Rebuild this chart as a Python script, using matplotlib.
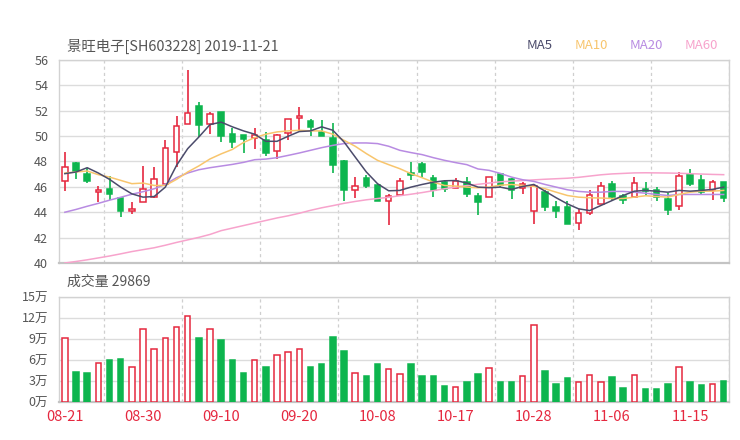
#
# kline chart with ma lines and volume
#

# set the matplotlib backend so figures can be saved in the background
import matplotlib
matplotlib.use("Agg")

import matplotlib.pyplot as plt
import numpy as np

plt.rcParams['font.family'] = ['Noto Sans CJK SC', 'DejaVu Sans']

# chart data
title = "景旺电子[SH603228] 2019-11-21"
dateLabels = ["08-21", "08-30", "09-10", "09-20", "10-08",
              "10-17", "10-28", "11-06", "11-15"]

opens = [46.43, 47.90, 46.98, 45.56, 45.80, 45.16, 44.13, 44.84, 45.24, 46.19,
         48.77, 50.99, 52.34, 50.99, 51.91, 50.20, 50.09, 49.88, 49.72, 48.80,
         50.25, 51.44, 51.20, 50.33, 49.88, 48.00, 45.74, 46.69, 46.11, 44.85,
         45.32, 47.09, 47.83, 46.72, 46.35, 45.93, 46.37, 45.30, 45.19, 47.04,
         46.61, 45.93, 44.13, 45.58, 44.45, 44.45, 43.13, 43.95, 44.66, 46.19,
         45.30, 45.19, 45.85, 45.77, 45.03, 44.53, 46.98, 46.51, 45.72, 46.35]
highs = [48.72, 47.95, 47.50, 46.06, 46.85, 45.16, 44.79, 47.67, 47.59, 49.70,
         51.57, 55.21, 52.70, 51.91, 51.91, 50.60, 50.09, 50.60, 50.30, 50.20,
         51.31, 52.31, 51.36, 51.25, 51.07, 48.14, 46.80, 46.96, 46.20, 45.45,
         46.69, 47.96, 47.96, 46.96, 46.56, 46.72, 46.77, 45.50, 46.80, 47.10,
         46.72, 46.40, 46.11, 45.72, 44.92, 44.92, 44.27, 45.77, 46.35, 46.43,
         45.45, 46.77, 46.35, 45.98, 45.50, 47.17, 47.38, 46.90, 46.51, 46.40]
lows = [45.64, 46.60, 46.30, 44.79, 44.98, 43.66, 43.87, 44.84, 45.14, 46.19,
        47.56, 50.99, 49.93, 50.20, 49.54, 49.09, 48.67, 49.01, 48.40, 48.22,
        49.72, 50.46, 50.04, 50.04, 47.12, 44.90, 45.11, 45.90, 44.87, 43.00,
        45.32, 46.51, 46.77, 45.19, 45.56, 45.93, 45.19, 43.82, 45.19, 45.98,
        45.08, 45.40, 43.08, 44.08, 43.53, 43.08, 42.63, 43.79, 44.66, 44.92,
        44.66, 45.19, 45.32, 44.87, 43.79, 44.19, 46.09, 45.45, 44.98, 44.79]
closes = [47.53, 47.22, 46.50, 45.77, 45.45, 44.13, 44.24, 45.87, 46.61, 49.09,
          50.83, 51.86, 50.91, 51.73, 49.99, 49.57, 49.77, 50.09, 48.67, 50.09,
          51.31, 51.62, 50.68, 50.04, 47.75, 45.74, 46.03, 46.09, 44.87, 45.30,
          46.48, 46.96, 47.14, 45.77, 45.87, 46.45, 45.45, 44.77, 46.80, 46.11,
          45.77, 46.21, 46.03, 44.39, 44.08, 43.08, 43.95, 45.34, 46.09, 45.19,
          44.98, 46.32, 45.64, 45.24, 44.19, 46.82, 46.24, 45.58, 46.37, 45.14]

ma5 = [47.04, 47.17, 47.51, 47.09, 46.59, 45.98, 45.45, 45.19, 45.24, 45.98,
       47.69, 49.01, 49.93, 50.91, 51.10, 50.73, 50.41, 50.15, 49.59, 49.59,
       49.99, 50.36, 50.41, 50.73, 50.46, 49.54, 48.35, 47.17, 46.25, 45.69,
       45.72, 45.98, 46.19, 46.37, 46.48, 46.50, 46.30, 45.98, 45.93, 45.98,
       45.80, 46.03, 46.19, 45.66, 45.14, 44.66, 44.27, 44.13, 44.53, 44.92,
       45.32, 45.66, 45.72, 45.66, 45.58, 45.72, 45.66, 45.72, 45.80, 45.98]
ma10 = [47.09, 47.17, 47.25, 46.96, 46.77, 46.51, 46.25, 46.30, 46.11, 46.11,
        46.59, 47.17, 47.65, 48.20, 48.60, 48.95, 49.50, 49.88, 50.15, 50.33,
        50.41, 50.46, 50.41, 50.41, 50.15, 49.67, 49.20, 48.62, 48.09, 47.75,
        47.43, 47.04, 46.72, 46.37, 46.11, 46.06, 45.98, 45.93, 45.98, 46.13,
        46.19, 46.11, 46.03, 45.85, 45.58, 45.32, 45.19, 45.14, 45.12, 45.08,
        45.08, 45.19, 45.30, 45.24, 45.19, 45.40, 45.58, 45.66, 45.66, 45.72]
ma20 = [44.00, 44.22, 44.47, 44.70, 44.95, 45.18, 45.42, 45.62, 45.85, 46.20,
        46.72, 47.09, 47.35, 47.51, 47.64, 47.77, 47.93, 48.14, 48.19, 48.30,
        48.48, 48.67, 48.88, 49.09, 49.27, 49.41, 49.46, 49.46, 49.41, 49.20,
        48.88, 48.70, 48.54, 48.30, 48.09, 47.91, 47.75, 47.41, 47.30, 47.06,
        46.77, 46.56, 46.43, 46.19, 45.98, 45.77, 45.64, 45.58, 45.58, 45.64,
        45.64, 45.58, 45.50, 45.40, 45.32, 45.40, 45.40, 45.40, 45.40, 45.40]
ma60 = [40.00, 40.12, 40.25, 40.40, 40.55, 40.72, 40.90, 41.05, 41.20, 41.40,
        41.62, 41.82, 42.02, 42.25, 42.55, 42.75, 42.95, 43.15, 43.35, 43.55,
        43.72, 43.92, 44.15, 44.35, 44.52, 44.70, 44.85, 44.98, 45.08, 45.18,
        45.30, 45.42, 45.55, 45.70, 45.85, 45.98, 46.10, 46.20, 46.30, 46.40,
        46.45, 46.50, 46.55, 46.60, 46.64, 46.68, 46.75, 46.85, 46.95, 47.02,
        47.06, 47.10, 47.11, 47.10, 47.09, 47.07, 47.04, 47.01, 46.98, 46.96]

# volume in shares
volumes = [92000, 42400, 42000, 55700, 60000, 62000, 50000, 104300, 76300, 92000,
           106700, 123400, 91000, 104800, 89100, 60600, 41400, 60600, 49600, 67700,
           72000, 76300, 50000, 54300, 92400, 72900, 42000, 37700, 53900, 47700,
           40600, 53900, 37700, 37700, 23400, 22000, 28100, 39600, 48600, 28600,
           29100, 37700, 110600, 43900, 25300, 33900, 29100, 39100, 28100, 36300,
           20600, 38600, 18600, 18600, 26300, 50600, 29100, 24300, 26300, 29869]

# colours
RED = "#e5283f"
GREEN = "#0db54e"
GRID = "#dcdcdc"
TEXT = "#555555"

opens = np.array(opens)
closes = np.array(closes)
x = np.arange(len(closes))
up = closes >= opens

fig = plt.figure(figsize=(7.4, 4.4), dpi=100)
ax = fig.add_axes([0.0801, 0.4023, 0.9054, 0.4614])
axv = fig.add_axes([0.0801, 0.0864, 0.9054, 0.2386])

# price panel
edgeCols = [RED if u else GREEN for u in up]
faceCols = ["white" if u else GREEN for u in up]
ax.vlines(x, lows, highs, colors=edgeCols, linewidth=1.2, zorder=2)
bottoms = np.minimum(opens, closes)
heights = np.maximum(np.abs(closes - opens), 0.06)
ax.bar(x, heights, bottom=bottoms, width=0.5, color=faceCols,
       edgecolor=edgeCols, linewidth=1.1, zorder=3)

ax.plot(x, ma60, color="#f7a3cc", linewidth=1.1, zorder=4)
ax.plot(x, ma20, color="#b88be2", linewidth=1.1, zorder=4)
ax.plot(x, ma10, color="#f8c56d", linewidth=1.1, zorder=4)
ax.plot(x, ma5, color="#4b4b6b", linewidth=1.1, zorder=4)

ax.set_xlim(-0.5, len(x) - 0.5)
ax.set_ylim(40, 56)
ax.set_yticks(np.arange(40, 57, 2))
ax.set_xticks([])

# volume panel
vol = np.array(volumes) / 10000.0
axv.bar(x, vol, width=0.5, color=faceCols, edgecolor=edgeCols,
        linewidth=1.1, zorder=3)
axv.set_xlim(-0.5, len(x) - 0.5)
axv.set_ylim(0, 15)
axv.set_yticks(np.arange(0, 16, 3))
axv.set_yticklabels(["{}万".format(v) for v in range(0, 16, 3)])
axv.set_xticks(x[::7])
axv.set_xticklabels(dateLabels)

for a in (ax, axv):
    a.grid(axis="y", color=GRID, linewidth=1.0, zorder=0)
    for k in np.arange(3.5, len(x), 7):
        a.axvline(k, color="#cfcfcf", linewidth=0.9, linestyle=(0, (2.5, 2.5)),
                  zorder=0)
    for s in a.spines.values():
        s.set_color("#d2d2d2")
        s.set_linewidth(1.0)
    a.spines["bottom"].set_color("#c4c4c4")
    a.spines["bottom"].set_linewidth(1.6)
    a.tick_params(axis="y", length=0, labelsize=9, labelcolor=TEXT, pad=8)
    a.tick_params(axis="x", length=0, labelsize=10.5, labelcolor=RED, pad=6)
    a.set_axisbelow(True)

# titles and legend
fig.text(0.0905, 0.894, title, fontsize=10.4, color=TEXT, va="center")
fig.text(0.0905, 0.359, "成交量 29869", fontsize=10, color=TEXT, va="center")
legend = [("MA5", "#4b4b6b", 0.712), ("MA10", "#f8c56d", 0.777),
          ("MA20", "#b88be2", 0.851), ("MA60", "#f7a3cc", 0.925)]
for name, col, xp in legend:
    fig.text(xp, 0.896, name, fontsize=9.5, color=col, va="center")

plt.savefig("out.png", dpi=100)
